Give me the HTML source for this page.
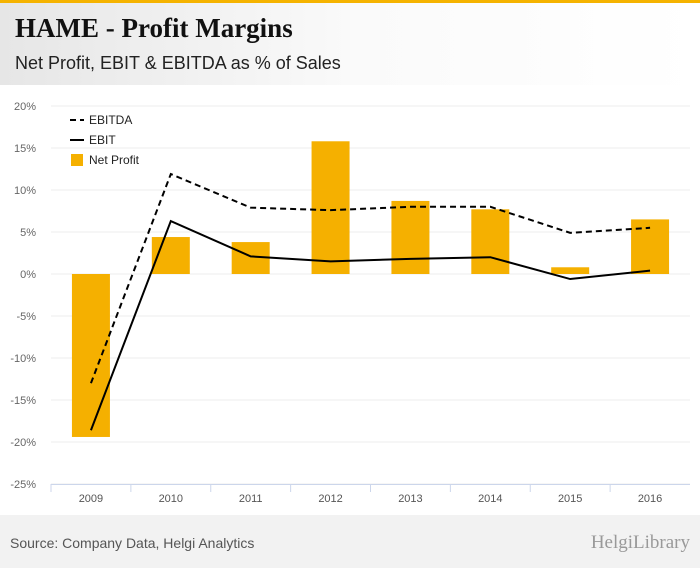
<!DOCTYPE html>
<html><head><meta charset="utf-8"><style>
body{margin:0;width:700px;height:568px;overflow:hidden;background:#fff;font-family:"Liberation Sans",sans-serif}
#hdr{position:absolute;left:0;top:0;width:700px;height:85px;background:linear-gradient(90deg,#e6e6e6,#fafafa 50%,#fff)}
#bar{position:absolute;left:0;top:0;width:700px;height:3px;background:#f5b300}
#title{position:absolute;left:15px;top:13px;font-family:"Liberation Serif",serif;font-weight:bold;font-size:27px;color:#111}
#sub{position:absolute;left:15px;top:53px;font-size:18px;color:#222}
#ftr{position:absolute;left:0;top:515px;width:700px;height:53px;background:#f2f2f2}
#src{position:absolute;left:10px;top:535px;font-size:14px;color:#555}
#logo{position:absolute;right:10px;top:532px;font-family:"Liberation Serif",serif;font-size:19px;color:#999}
svg{position:absolute;left:0;top:85px}
</style></head><body>
<div id="hdr"></div>
<div id="bar"></div>
<div id="title">HAME - Profit Margins</div>
<div id="sub">Net Profit, EBIT &amp; EBITDA as % of Sales</div>
<svg id="chart" width="700" height="430"></svg>
<div id="ftr"></div>
<div id="src">Source: Company Data, Helgi Analytics</div>
<div id="logo">HelgiLibrary</div>
<script>
const categories=["2009","2010","2011","2012","2013","2014","2015","2016"];
const netProfit=[-19.4,4.4,3.8,15.8,8.7,7.7,0.8,6.5];
const ebitda=[-13.0,11.9,7.9,7.6,8.0,8.0,4.9,5.5];
const ebit=[-18.6,6.3,2.1,1.5,1.8,2.0,-0.6,0.4];
const yTicks=[20,15,10,5,0,-5,-10,-15,-20,-25];
const svg=document.getElementById('chart');
const NS='http://www.w3.org/2000/svg';
const X0=51,X1=690,OFF=85;
const y=v=>106-OFF+(20-v)*8.4;
const bw=(X1-X0)/categories.length;
const x=i=>X0+bw*(i+0.5);
function mk(t,a){const e=document.createElementNS(NS,t);for(const k in a)e.setAttribute(k,a[k]);svg.appendChild(e);return e;}
yTicks.forEach(t=>{
 const l=mk('line',{x1:X0,x2:X1,y1:y(t),y2:y(t),stroke:'#ececec','stroke-width':1});
 
 const tx=mk('text',{x:36,y:y(t)+4,'text-anchor':'end','font-size':11,fill:'#666','font-family':'Liberation Sans'});
 tx.textContent=t+'%';
 
});
const ax=mk('line',{x1:X0,x2:X1,y1:y(-25)+0.5,y2:y(-25)+0.5,stroke:'#ccd6eb'});

categories.forEach((c,i)=>{
 const tk=mk('line',{x1:X0+bw*i,x2:X0+bw*i,y1:y(-25),y2:y(-25)+8,stroke:'#ccd6eb'});
 
 const tx=mk('text',{x:x(i),y:y(-25)+18,'text-anchor':'middle','font-size':11,fill:'#555','font-family':'Liberation Sans'});
 tx.textContent=c;
 
 const v=netProfit[i];
 const b=mk('rect',{x:x(i)-19,width:38,y:Math.min(y(v),y(0)),height:Math.abs(y(v)-y(0)),fill:'#f5b000'});
 
});
function line(arr,dash,name){
 const p=mk('path',{d:arr.map((v,i)=>(i?'L':'M')+x(i)+' '+y(v)).join(' '),fill:'none',stroke:'#000','stroke-width':2,'stroke-dasharray':dash});
 
}
line(ebitda,'6,4','ebitda-line');
line(ebit,'none','ebit-line');
[['EBITDA','6,4'],['EBIT','none'],['Net Profit','bar']].forEach((e,i)=>{
 const yy=120-OFF+i*20;
 if(e[1]==='bar'){const r=mk('rect',{x:71,y:yy-6,width:12,height:12,fill:'#f5b000'});}
 else{const l=mk('line',{x1:70,x2:84,y1:yy,y2:yy,stroke:'#000','stroke-width':2,'stroke-dasharray':e[1]});}
 const t=mk('text',{x:89,y:yy+4,'font-size':12,fill:'#222','font-family':'Liberation Sans'});
 t.textContent=e[0];
 
});
</script>
</body></html>
